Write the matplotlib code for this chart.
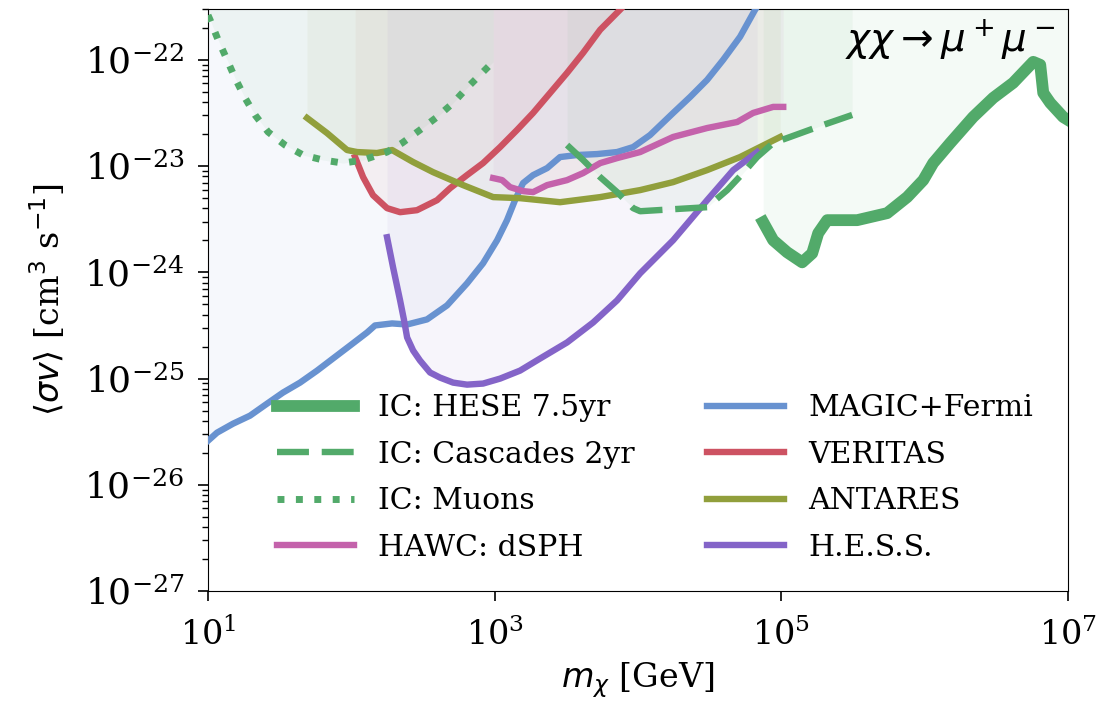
import numpy as np
import matplotlib
matplotlib.use("Agg")
import matplotlib.pyplot as plt

plt.rcParams['font.family'] = 'DejaVu Serif'
plt.rcParams['mathtext.fontset'] = 'dejavusans'

# limits, as log10(m / GeV) and log10(<sigma v> / cm^3 s^-1)
hese_logm = [4.873, 4.943, 5.040, 5.145, 5.215, 5.257, 5.320, 5.529, 5.738, 5.878, 5.990,
             6.059, 6.178, 6.338, 6.478, 6.617, 6.757, 6.806, 6.827, 6.876, 6.966, 7.0]
hese_logsv = [-23.528, -23.698, -23.811, -23.906, -23.821, -23.632, -23.509, -23.509, -23.443,
              -23.292, -23.132, -22.972, -22.783, -22.538, -22.358, -22.217, -22.019, -22.047,
              -22.311, -22.406, -22.538, -22.566]

casc_logm = [3.505, 3.617, 3.736, 3.854, 3.966, 4.015, 4.245, 4.482, 4.622, 4.733, 4.831,
             4.943, 5.061, 5.292, 5.494]
casc_logsv = [-22.802, -22.943, -23.104, -23.245, -23.396, -23.425, -23.406, -23.387, -23.226,
              -23.066, -22.915, -22.783, -22.726, -22.613, -22.519]

muon_logm = [1.0, 1.014, 1.070, 1.133, 1.188, 1.258, 1.328, 1.419, 1.537, 1.663, 1.802, 1.942,
             2.082, 2.249, 2.354, 2.479, 2.598, 2.710, 2.807, 2.912, 2.989]
muon_logsv = [-21.58, -21.623, -21.811, -22.0, -22.170, -22.358, -22.519, -22.679, -22.802,
              -22.896, -22.943, -22.972, -22.943, -22.868, -22.783, -22.660, -22.538, -22.406,
              -22.264, -22.123, -22.019]

hawc_logm = [2.989, 3.052, 3.107, 3.198, 3.268, 3.366, 3.505, 3.617, 3.736, 3.854, 4.015,
             4.245, 4.482, 4.692, 4.803, 4.943, 5.013]
hawc_logsv = [-23.113, -23.132, -23.198, -23.236, -23.245, -23.179, -23.132, -23.066, -22.972,
              -22.925, -22.868, -22.726, -22.642, -22.585, -22.500, -22.443, -22.443]

magic_logm = [1.0, 1.063, 1.174, 1.293, 1.412, 1.523, 1.642, 1.761, 1.872, 1.991, 2.110, 2.165,
              2.284, 2.389, 2.528, 2.668, 2.807, 2.919, 3.017, 3.086, 3.142, 3.198, 3.268,
              3.366, 3.456, 3.575, 3.715, 3.854, 3.966, 4.084, 4.245, 4.364, 4.482, 4.594,
              4.712, 4.817, 4.866]
magic_logsv = [-25.585, -25.509, -25.425, -25.349, -25.236, -25.132, -25.038, -24.925, -24.811,
               -24.689, -24.566, -24.500, -24.481, -24.491, -24.443, -24.311, -24.104, -23.915,
               -23.698, -23.509, -23.321, -23.160, -23.085, -23.019, -22.915, -22.896, -22.887,
               -22.868, -22.821, -22.708, -22.500, -22.349, -22.189, -22.0, -21.783, -21.528,
               -21.434]

veritas_logm = [2.026, 2.082, 2.151, 2.249, 2.340, 2.458, 2.598, 2.689, 2.807, 2.919, 3.038,
                3.156, 3.268, 3.387, 3.505, 3.617, 3.736, 3.875, 3.945]
veritas_logsv = [-22.915, -23.104, -23.274, -23.396, -23.434, -23.415, -23.321, -23.208, -23.085,
                 -22.972, -22.821, -22.660, -22.500, -22.311, -22.123, -21.934, -21.717, -21.528,
                 -21.43]

antares_logm = [1.691, 1.830, 1.970, 2.040, 2.179, 2.284, 2.431, 2.570, 2.779, 2.989, 3.177,
                3.456, 3.736, 4.015, 4.245, 4.482, 4.712, 4.992]
antares_logsv = [-22.547, -22.689, -22.849, -22.868, -22.877, -22.849, -22.962, -23.057, -23.179,
                 -23.292, -23.302, -23.340, -23.292, -23.226, -23.151, -23.038, -22.915, -22.726]

hess_logm = [2.249, 2.291, 2.340, 2.368, 2.389, 2.431, 2.479, 2.549, 2.619, 2.710, 2.807, 2.919,
             3.038, 3.177, 3.317, 3.505, 3.687, 3.854, 4.015, 4.245, 4.482, 4.664, 4.831]
hess_logsv = [-23.670, -23.953, -24.264, -24.453, -24.613, -24.736, -24.830, -24.943, -24.991,
              -25.038, -25.057, -25.047, -25.0, -24.925, -24.811, -24.660, -24.472, -24.264,
              -24.009, -23.698, -23.321, -23.038, -22.868]

green = '#52AA6A'
blue = '#6892D0'
red = '#CD5262'
olive = '#919F3C'
purple = '#8464C8'
pink = '#C462AB'

curves = [
    ('MAGIC+Fermi', magic_logm, magic_logsv, blue, '-', 4.6),
    ('VERITAS', veritas_logm, veritas_logsv, red, '-', 4.6),
    ('ANTARES', antares_logm, antares_logsv, olive, '-', 4.6),
    ('H.E.S.S.', hess_logm, hess_logsv, purple, '-', 4.6),
    ('HAWC: dSPH', hawc_logm, hawc_logsv, pink, '-', 4.6),
    ('IC: Muons', muon_logm, muon_logsv, green, ':', 5),
    ('IC: Cascades 2yr', casc_logm, casc_logsv, green, '--', 4.6),
    ('IC: HESE 7.5yr', hese_logm, hese_logsv, green, '-', 8.5),
]

fig = plt.figure(figsize=(11.1, 7.02), dpi=100)
ax = fig.add_axes([0.1874, 0.158, 0.7748, 0.829])

handles = {}
for name, lm, ls, c, style, lw in curves:
    m = 10 ** np.array(lm)
    sv = 10 ** np.array(ls)
    ax.fill_between(m, sv, 1e-19, color=c, alpha=0.06, lw=0, zorder=1)
    line, = ax.plot(m, sv, color=c, ls=style, lw=lw, label=name, zorder=3)
    if style == '--':
        line.set_dashes((5, 2))
    handles[name] = line

order = ['IC: HESE 7.5yr', 'IC: Cascades 2yr', 'IC: Muons', 'HAWC: dSPH',
         'MAGIC+Fermi', 'VERITAS', 'ANTARES', 'H.E.S.S.']
ax.legend([handles[k] for k in order], order, ncol=2, frameon=False, fontsize=21.5,
          loc='lower left', bbox_to_anchor=(0.066, 0.03), borderaxespad=0,
          handlelength=2.6, handletextpad=0.8, columnspacing=2.4, labelspacing=0.62)

ax.set_xscale('log')
ax.set_yscale('log')
ax.set_xlim(1e1, 1e7)
ax.set_ylim(1e-27, 3e-22)
ax.set_xticks([1e1, 1e3, 1e5, 1e7])
ax.set_yticks([1e-27, 1e-26, 1e-25, 1e-24, 1e-23, 1e-22])
ax.xaxis.set_minor_locator(matplotlib.ticker.NullLocator())
ax.tick_params(axis='both', which='major', length=7, width=1.2)
ax.tick_params(axis='x', which='major', labelsize=24, pad=12)
ax.tick_params(axis='y', which='major', labelsize=26, pad=10)
ax.tick_params(axis='y', which='minor', length=4, width=1)

ax.set_xlabel(r'$m_\chi$ [GeV]', fontsize=24, labelpad=6)
ax.set_ylabel(r'$\langle\sigma v\rangle$ [cm$^3$ s$^{-1}$]', fontsize=24, labelpad=12)
ax.text(0.985, 0.985, r'$\chi\chi\rightarrow\mu^+\mu^-$', transform=ax.transAxes,
        ha='right', va='top', fontsize=28)

fig.savefig('out.png', dpi=100)
